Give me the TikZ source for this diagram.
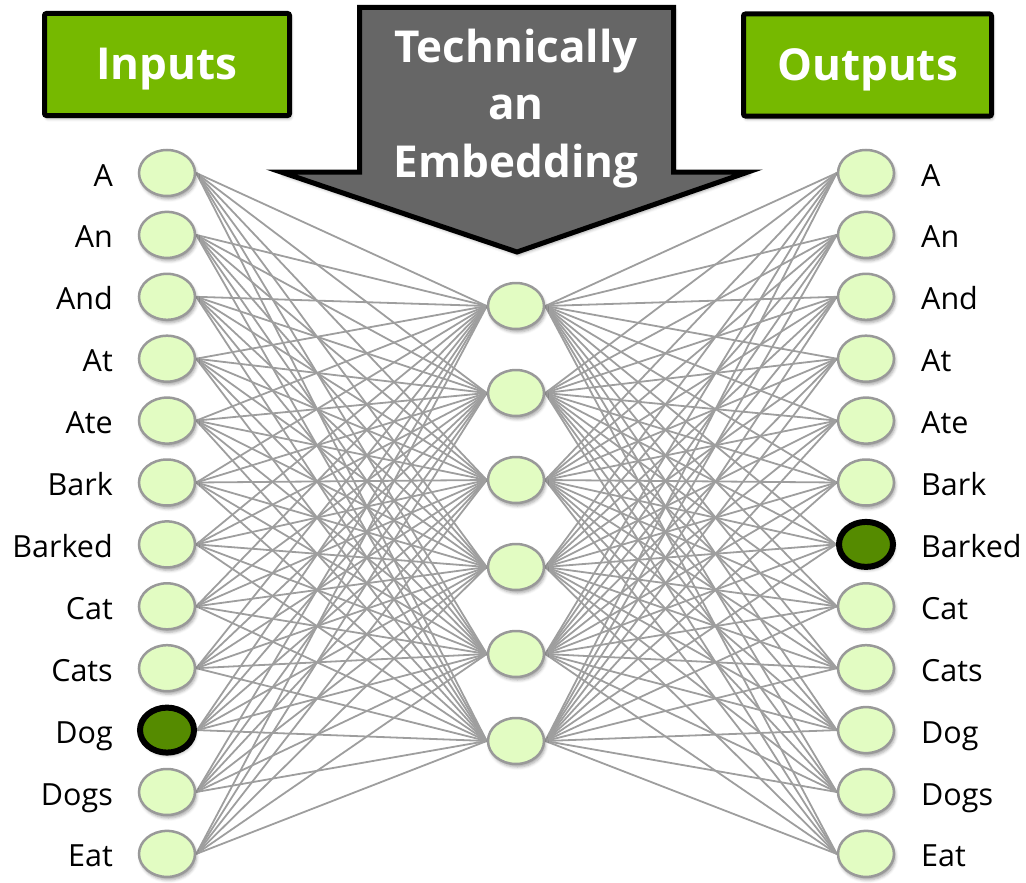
\documentclass[tikz,border=0pt]{standalone}
\usepackage{fontspec}
\setmainfont{Open Sans}
\usetikzlibrary{shapes.geometric,backgrounds,shadows.blur}
\definecolor{nvgreen}{HTML}{76B900}
\definecolor{nodefill}{HTML}{E2FCC2}
\definecolor{nodedark}{HTML}{558B00}
\definecolor{nodeline}{HTML}{999999}
\definecolor{wire}{HTML}{9E9E9E}
\definecolor{arrowgray}{HTML}{666666}
\tikzset{
  softshadow/.style={blur shadow={shadow xshift=1.5pt, shadow yshift=-3pt, shadow blur radius=3pt, shadow opacity=35}},
  neuron/.style={ellipse, minimum width=56pt, minimum height=46pt, inner sep=0pt,
    fill=nodefill, draw=nodeline, line width=2.5pt, softshadow},
  hotneuron/.style={neuron, fill=nodedark, draw=black, line width=6pt, minimum width=54pt, minimum height=45pt},
  wordlbl/.style={font=\fontsize{30.5}{36}\selectfont, text=black, inner sep=0pt},
  titletext/.style={font=\fontsize{44}{57}\selectfont\bfseries, text=white, inner sep=0pt},
  titlebox/.style={rectangle, rounded corners=2pt, fill=nvgreen, draw=black, line width=5pt,
    minimum width=245pt, minimum height=102pt, text height=31pt, text depth=0pt,
    font=\fontsize{44}{57}\selectfont\bfseries, text=white, softshadow},
  wires/.style={draw=wire, line width=1.8pt},
  bigarrow/.style={fill=arrowgray, draw=black, line width=5pt, line join=miter, softshadow}
}
\begin{document}
\begin{tikzpicture}[x=1pt,y=-1pt]
\useasboundingbox (0,0) rectangle (1026,883);
% title boxes
\node[titlebox] (inputs) at (167,64.5) {Inputs};
\node[titlebox, minimum width=248pt] (outputs) at (867.5,65) {Outputs};
% embedding arrow
\path[bigarrow] (359.5,7.5) -- (673.5,7.5) -- (673.5,172) -- (748,172) -- (517,252)
  -- (281,172) -- (359.5,172) -- cycle;
\node[titletext, anchor=base] (emb1) at (516,63) {Technically};
\node[titletext, anchor=base] (emb2) at (516,120) {an};
\node[titletext, anchor=base] (emb3) at (516,177) {Embedding};
% input and output layers
\foreach \w [count=\i] in {A,An,And,At,Ate,Bark,Barked,Cat,Cats,Dog,Dogs,Eat}{
  \pgfmathsetmacro{\yy}{173+61.9*(\i-1)}
  \ifnum\i=10 \def\ls{hotneuron}\else\def\ls{neuron}\fi
  \ifnum\i=7 \def\rs{hotneuron}\else\def\rs{neuron}\fi
  \node[\ls] (in\i) at (167,\yy) {};
  \node[\rs] (out\i) at (866,\yy) {};
  \node[wordlbl, anchor=base east] (lin\i) at (113,\yy+13) {\w};
  \node[wordlbl, anchor=base west] (lout\i) at (921,\yy+13) {\w};
}
% hidden layer
\foreach \j in {1,...,6}{
  \pgfmathsetmacro{\yy}{306+87*(\j-1)}
  \node[neuron] (mid\j) at (516,\yy) {};
}
% connections
\begin{pgfonlayer}{background}
\foreach \i in {1,...,12}{
  \foreach \j in {1,...,6}{
    \draw[wires] (in\i.east) -- (mid\j.west);
    \draw[wires] (mid\j.east) -- (out\i.west);
  }
}
\end{pgfonlayer}
\end{tikzpicture}
\end{document}
